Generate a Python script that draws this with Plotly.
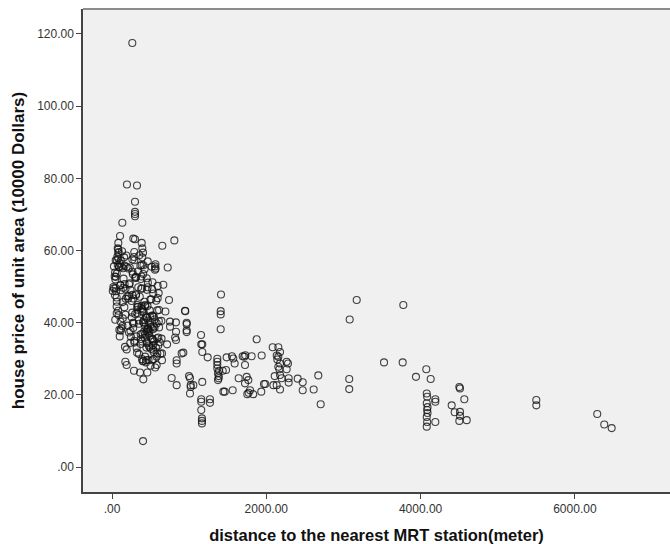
import plotly.graph_objects as go

# ---- data ----
# sparse / outlying points: distance (m), price
sparse_dist = [263, 194, 324, 298, 298, 298, 298, 134, 104, 82, 74, 276, 298, 385, 393, 402,
               652, 808, 289, 82, 82, 48, 100, 126, 289, 393, 463, 385, 515, 566, 722, 190, 211,
               592, 739, 950, 968, 968, 968, 968, 1154, 1157, 1170, 1170, 1240, 924, 838, 838,
               773, 838, 998, 1011, 1020, 1020, 1011, 1054, 1170, 1157, 1157, 1270, 1270, 1157,
               1166, 1166, 1166, 1413, 1409, 1409, 1409, 1365, 1365, 1365, 1365, 1387, 1374, 1383,
               1383, 1374, 1435, 1478, 1443, 1461, 1564, 1486, 1555, 1572, 1590, 1642, 1694, 1715,
               1728, 1724, 1746, 1767, 1724, 1754, 1771, 1789, 1810, 1831, 1875, 1940, 1935, 1970,
               1987, 2083, 2156, 2178, 2135, 2156, 2143, 2178, 2156, 2169, 2109, 2092, 2135, 2178,
               2199, 2178, 2264, 2281, 2264, 2290, 2290, 2407, 2472, 2472, 2614, 2674, 2705, 3075,
               3075, 3081, 3172, 3776, 3526, 3768, 3940, 4074, 4131, 4080, 4085, 4080, 4090, 4085,
               4090, 4080, 4085, 4080, 4191, 4191, 4191, 4403, 4502, 4511, 4567, 4442, 4511, 4511,
               4502, 4598, 5500, 5500, 6290, 6381, 6477, 402,
               173, 190, 285, 363, 458, 406, 579, 430, 445, 579, 587, 648, 648, 752, 752, 830, 830,
               168, 190, 946, 903, 26, 39, 61, 95, 17]
sparse_price = [117.5, 78.3, 78.0, 73.5, 70.7, 70.1, 69.5, 67.7, 64.0, 62.1, 60.6, 63.3, 63.1, 62.1, 60.6, 59.4,
                61.3, 62.8, 59.6, 59.3, 57.8, 57.3, 56.4, 55.5, 57.3, 58.1, 57.0, 56.0, 55.5, 55.0, 55.3, 55.5, 55.0,
                50.2, 46.3, 43.2, 40.0, 39.6, 37.9, 37.4, 36.6, 34.0, 34.0, 31.9, 30.4, 31.7, 29.6, 28.7,
                24.7, 22.7, 25.2, 24.7, 22.7, 22.2, 20.4, 22.7, 23.6, 18.8, 18.1, 18.8, 17.8, 15.8,
                13.5, 12.8, 12.1, 47.8, 43.2, 42.3, 38.2, 30.0, 29.2, 28.3, 27.3, 26.7, 26.0, 25.2,
                24.6, 24.1, 26.7, 26.9, 20.9, 20.9, 21.3, 30.4, 30.7, 30.1, 28.7, 24.6, 30.7, 30.6,
                31.0, 28.3, 25.0, 24.1, 23.2, 20.2, 20.6, 21.3, 30.7, 20.2, 35.4, 30.9, 20.9, 23.0,
                23.0, 33.2, 33.2, 31.9, 30.9, 30.6, 29.8, 28.7, 27.8, 27.1, 25.2, 22.7, 22.7, 25.5,
                24.6, 21.5, 29.2, 28.7, 27.1, 24.6, 23.4, 24.5, 23.5, 21.3, 21.5, 25.4, 17.4, 24.4,
                21.6, 40.9, 46.3, 44.9, 29.0, 29.0, 25.0, 27.1, 24.4, 20.4, 19.5, 17.7, 16.6, 15.8,
                15.0, 13.9, 12.5, 11.2, 18.8, 18.1, 12.5, 17.1, 22.2, 21.8, 18.8, 15.2, 15.3, 14.2,
                12.8, 13.0, 18.6, 17.1, 14.7, 11.8, 10.8, 7.2,
                29.2, 28.3, 26.7, 26.2, 26.2, 24.3, 28.3, 30.6, 29.6, 30.6, 31.5, 31.5, 29.6, 40.3, 38.9, 37.5, 35.2,
                33.3, 32.6, 43.3, 31.5, 49.5, 47.6, 42.6, 38.0, 49.9]

# dense cluster near the stations, row by row (price level, distances)
core_levels = [59.0, 57.0, 54.5, 51.5, 48.5, 45.5, 42.5, 39.5, 36.5, 33.5, 30.5]
core_rows = [
    [74, 90, 110, 200, 350],
    [50, 80, 105, 180, 250, 290, 350, 420, 560],
    [40, 60, 85, 100, 130, 170, 210, 280, 330, 380, 440, 548, 579],
    [30, 55, 90, 120, 160, 200, 250, 300, 310, 360, 390, 430, 480, 520, 640],
    [20, 45, 70, 100, 150, 180, 230, 260, 290, 330, 370, 400, 440, 470, 500, 550, 600],
    [35, 80, 130, 200, 240, 280, 310, 350, 380, 410, 450, 490, 520, 560, 600],
    [60, 100, 170, 230, 280, 320, 350, 380, 400, 430, 460, 490, 520, 550, 580, 620, 680],
    [50, 90, 150, 200, 250, 300, 340, 370, 400, 420, 450, 470, 500, 530, 560, 600, 650, 817],
    [120, 200, 260, 310, 350, 390, 420, 440, 460, 490, 510, 540, 580, 620, 838],
    [230, 300, 360, 400, 430, 460, 480, 510, 550, 590, 640, 700],
    [330, 380, 420, 470, 500, 560, 620],
]
# spread of each point within its row band
core_price_off = [0.6, -0.8, 1.1, -0.4, 0.9, -1.2, 0.3, 1.3, -0.9, 0.5, -0.3, 1.0, -1.1, 0.2, 0.8, -0.6, 1.2, -1.0]
core_dist_off = [12, -8, 20, -15, 5, 25, -18, 9, -22, 14, -5, 18, -12, 3, 22, -20, 7, -10]

# extra points of the dark centre of the cluster
extra_dist = [380, 410, 440, 470, 500, 530, 455, 485, 515, 545, 420, 460, 490, 520, 550, 580, 610,
              400, 430, 460, 395, 425, 450, 480, 505, 540, 570, 600, 360, 340, 310, 270, 240, 210,
              160, 140, 120, 100, 60, 35, 25, 70, 150, 175, 330, 300, 270, 240, 290, 320, 350,
              390, 440, 500, 560]
extra_price = [44.0, 43.1, 41.8, 40.6, 39.4, 38.2, 37.5, 36.4, 35.6, 34.8, 45.8, 44.6, 43.4, 42.0, 40.9,
               39.8, 38.7, 40.2, 39.0, 38.0, 36.9, 35.8, 34.6, 33.7, 32.8, 31.9, 33.1, 35.9, 47.2, 49.8,
               52.7, 53.4, 49.1, 46.7, 44.3, 41.2, 38.4, 36.2, 47.0, 52.8, 55.6, 58.3, 52.2, 49.4, 44.9,
               42.4, 40.0, 37.7, 35.0, 33.0, 31.3, 29.9, 29.0, 28.1, 27.6]

x_ticks = [0, 2000, 4000, 6000]
x_tick_text = [".00", "2000.00", "4000.00", "6000.00"]
y_ticks = [0, 20, 40, 60, 80, 100, 120]
y_tick_text = [".00", "20.00", "40.00", "60.00", "80.00", "100.00", "120.00"]

core_dist = []
core_price = []
k = 0
for lvl, row in zip(core_levels, core_rows):
    for d in row:
        core_dist.append(max(10, d + core_dist_off[k % len(core_dist_off)]))
        core_price.append(round(lvl + core_price_off[(k * 7) % len(core_price_off)], 1))
        k += 1

dist = sparse_dist + core_dist + extra_dist
price = sparse_price + core_price + extra_price

fig = go.Figure()
fig.add_trace(go.Scatter(
    x=dist, y=price, mode="markers",
    marker=dict(symbol="circle-open", size=7, color="rgba(20,20,20,0.8)",
                line=dict(width=1.1)),
    hoverinfo="skip", showlegend=False))

font = "Liberation Sans, Arial, sans-serif"
fig.update_layout(
    width=670, height=544,
    margin=dict(l=83, r=0, t=9, b=52),
    paper_bgcolor="white",
    plot_bgcolor="#F0F0F0",
    font=dict(family=font, size=12, color="#333333"),
    xaxis=dict(range=[-376, 7233], tickvals=x_ticks, ticktext=x_tick_text,
               showgrid=False, zeroline=False, showline=True, linecolor="#444444",
               linewidth=1.5, ticks="outside", ticklen=5, tickcolor="#444444",
               tickfont=dict(size=12, color="#333333"), automargin=False,
               title=dict(text="<b>distance to the nearest MRT station(meter)</b>",
                          font=dict(size=16.5, color="#111111"), standoff=14)),
    yaxis=dict(range=[-6.9, 126.9], tickvals=y_ticks, ticktext=y_tick_text,
               showgrid=False, zeroline=False, showline=True, linecolor="#444444",
               linewidth=1.5, ticks="outside", ticklen=5, tickcolor="#444444",
               tickfont=dict(size=12, color="#333333"), automargin=False,
               title=dict(text="<b>house price of unit area (10000 Dollars)</b>",
                          font=dict(size=17, color="#111111"), standoff=8)),
    shapes=[dict(type="line", xref="paper", yref="paper", x0=0, x1=1, y0=1, y1=1,
                 line=dict(color="#8c8c8c", width=2))],
)

# remove the browser's default body margin so the figure sits at the window's corner
fig.write_html("out.html", config={"displayModeBar": False},
               post_script="document.body.style.margin='0';document.body.style.overflow='hidden';")
